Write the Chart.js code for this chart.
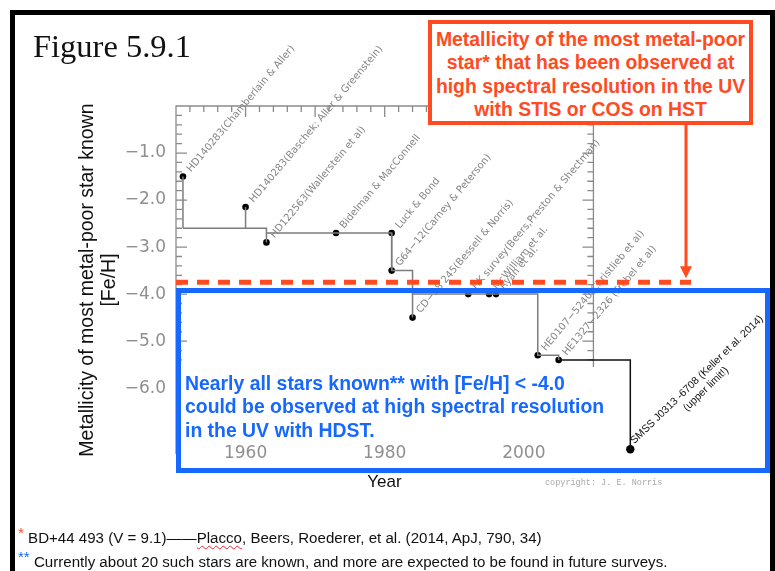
<!DOCTYPE html>
<html>
<head>
<meta charset="utf-8">
<script src="https://cdn.jsdelivr.net/npm/chart.js@4/dist/chart.umd.min.js"></script>
<style>
  html, body { margin: 0; padding: 0; background: #fff; overflow: hidden; }
  #page { position: relative; width: 775px; height: 571px; overflow: hidden; font-family: "Liberation Sans", Arial, sans-serif; }
  #page canvas { position: absolute; left: 0; top: 0; }
  .abs { position: absolute; white-space: nowrap; }
  #border { left: 10px; top: 10px; width: 765px; height: 640px; box-sizing: border-box; border: 5px solid #000; border-bottom: none; }
  #fig { left: 33px; top: 26px; font: 32.5px "Liberation Serif", "Times New Roman", serif; line-height: 40px; color: #111; }
  #hstBox { left: 428px; top: 20px; width: 325px; height: 105px; box-sizing: border-box; border: 4px solid #ff4b1f; background: #fff;
            color: #ff4b1f; font-weight: bold; font-size: 19.4px; line-height: 23.3px; text-align: center; padding-top: 4px; }
  #hdstBox { left: 176px; top: 288px; width: 594px; height: 185px; box-sizing: border-box; border: 5px solid #1668ff; }
  #hdstText { left: 185px; top: 372px; color: #1668ff; font-weight: bold; font-size: 19.4px; line-height: 23.3px; }
  #year { left: 334px; top: 472px; width: 101px; text-align: center; font-size: 17px; line-height: 20px; color: #111; }
  #copy { left: 545px; top: 478px; font: 8.5px "Liberation Mono", "Courier New", monospace; color: #a8a8a8; line-height: 10px; }
  #notes { left: 18px; top: 526px; font-size: 15.1px; line-height: 24px; color: #111; }
  .sr { color: #ff4b1f; position: relative; top: -5px; }
  .sb { color: #1668ff; position: relative; top: -5px; }
  .sq { text-decoration: underline wavy #e23; text-decoration-thickness: 1px; text-underline-offset: 2px; }
</style>
</head>
<body>
<div id="page">
  <canvas id="chart" width="775" height="571"></canvas>
  <div class="abs" id="border"></div>
  <div class="abs" id="fig">Figure 5.9.1</div>
  <div class="abs" id="hstBox">Metallicity of the most metal-poor<br>star* that has been observed at<br>high spectral resolution in the UV<br>with STIS or COS on HST</div>
  <div class="abs" id="hdstBox"></div>
  <div class="abs" id="hdstText">Nearly all stars known** with [Fe/H] &lt; -4.0<br>could be observed at high spectral resolution<br>in the UV with HDST.</div>
  <div class="abs" id="year">Year</div>
  <div class="abs" id="copy">copyright: J. E. Norris</div>
  <div class="abs" id="notes"><span class="sr">*</span> BD+44 493 (V = 9.1)——<span class="sq">Placco</span>, Beers, Roederer, et al. (2014, ApJ, 790, 34)<br><span class="sb">**</span> Currently about 20 such stars are known, and more are expected to be found in future surveys.</div>
</div>
<script>
// Discovery year and [Fe/H] of each record-setting metal-poor star
const starYears = [1951, 1960, 1963, 1973, 1981, 1981, 1984, 1992, 1995, 1996, 2002, 2005];
const starFeH   = [-1.5, -2.15, -2.9, -2.7, -2.7, -3.5, -4.5, -4.0, -4.0, -4.0, -5.3, -5.4];
const starNames = [
  'HD140283(Chamberlain & Aller)',
  'HD140283(Baschek; Aller & Greenstein)',
  'HD122563(Wallerstein et al)',
  'Bidelman & MacConnell',
  'Luck & Bond',
  'G64\u221212(Carney & Peterson)',
  'CD\u221238 245(Bessell & Norris)',
  'HK survey(Beers,Preston & Shectman)',
  'McWilliam et al.',
  'Ryan et al.',
  'HE0107\u22125240(Christlieb et al)',
  'HE1327\u22122326 (Frebel et al)'
];

// Lowest known [Fe/H] as a function of time (step curve)
const recordYears = [1951, 1963, 1981, 1984, 2002, 2005];
const recordFeH   = [-2.6, -2.7, -3.5, -4.0, -5.3, -5.4];

// SMSS J0313-6708 (upper limit)
const smssYear = 2015.3;
const smssFeH  = -7.3;
const smssLabel = ['SMSS J0313 -6708 (Keller et al. 2014)', '(upper limit!)'];

// Most metal-poor star observed at high resolution in the UV with HST
const hstLimitFeH = -3.75;

// Axis ranges and labelled ticks
const yearMin = 1950, yearMax = 2020, frameYearMax = 2010;
const fehMin = -7.4, fehMax = 0;
const xTickLabels = [1960, 1980, 2000];
const yTickLabels = [-1, -2, -3, -4, -5, -6];

// level of the record curve in force at a given year
function recordAt(yr) {
  let lvl = recordFeH[0];
  recordYears.forEach((ry, i) => { if (ry <= yr) lvl = recordFeH[i]; });
  return lvl;
}

const recordPts = recordYears.map((yr, i) => ({ x: yr, y: recordFeH[i] }));
const stemPts = [];
starYears.forEach((yr, i) => {
  const lvl = recordAt(yr);
  if (lvl !== starFeH[i]) {
    stemPts.push({ x: yr, y: starFeH[i] }, { x: yr, y: lvl }, { x: yr, y: null });
  }
});
const smssPath = [
  { x: recordYears[recordYears.length - 1], y: recordFeH[recordFeH.length - 1] },
  { x: smssYear, y: smssFeH }
];
const starPts = starYears.map((yr, i) => ({ x: yr, y: starFeH[i] }));

const GREY = '#7c7c7c';
const RED = '#ff4b1f';
const TICK_GREY = '#8f8f8f';
const ARROW_X = 686;      // arrow from the HST box down to the limit line
const BOX_TOP = 125;

const framePlugin = {
  id: 'frame',
  beforeDatasetsDraw(chart) {
    const { ctx, scales: { x, y } } = chart;
    const L = x.getPixelForValue(yearMin), R = x.getPixelForValue(frameYearMax);
    const T = y.getPixelForValue(fehMax), B = y.getPixelForValue(fehMin);
    ctx.save();
    ctx.strokeStyle = '#8a8a8a';
    ctx.lineWidth = 1.3;
    ctx.beginPath();
    ctx.moveTo(L, B); ctx.lineTo(L, T); ctx.lineTo(R, T); ctx.lineTo(R, B);
    for (let yr = yearMin + 2; yr < frameYearMax; yr += 2) {
      const px = x.getPixelForValue(yr);
      const len = yr % 10 === 0 ? 11 : 6;
      ctx.moveTo(px, T); ctx.lineTo(px, T + len);
    }
    for (let k = 1; k < 37; k++) {
      const py = y.getPixelForValue(-k * 0.2);
      const len = k % 5 === 0 ? 11 : 6;
      ctx.moveTo(L, py); ctx.lineTo(L + len, py);
      ctx.moveTo(R, py); ctx.lineTo(R - len, py);
    }
    ctx.stroke();
    // plain panel behind the HDST note
    const cy = y.getPixelForValue(-5.55);
    ctx.fillStyle = '#fff';
    ctx.fillRect(L + 5, cy, 585, 468 - cy);
    ctx.restore();
  },
  afterDatasetsDraw(chart) {
    const { ctx, scales: { x, y } } = chart;
    ctx.save();
    // year labels along the bottom of the frame
    ctx.font = '17px "DejaVu Sans"';
    ctx.fillStyle = TICK_GREY;
    ctx.textAlign = 'center';
    ctx.textBaseline = 'middle';
    xTickLabels.forEach(yr => ctx.fillText(String(yr), x.getPixelForValue(yr), chart.chartArea.bottom));
    // star labels
    ctx.font = '10px "DejaVu Sans"';
    ctx.fillStyle = '#858585';
    ctx.textBaseline = 'alphabetic';
    ctx.textAlign = 'left';
    starYears.forEach((yr, i) => {
      const px = x.getPixelForValue(yr), py = y.getPixelForValue(starFeH[i]);
      ctx.save();
      ctx.translate(px + 8, py - 4);
      ctx.rotate(-50 * Math.PI / 180);
      ctx.fillText(starNames[i], 0, 0);
      ctx.restore();
    });
    // SMSS label
    {
      const px = x.getPixelForValue(smssYear), py = y.getPixelForValue(smssFeH);
      ctx.font = '10.5px "Liberation Sans"';
      ctx.fillStyle = '#111';
      ctx.save();
      ctx.translate(px + 4, py - 5);
      ctx.rotate(-44 * Math.PI / 180);
      const w = ctx.measureText(smssLabel[0]).width;
      ctx.fillText(smssLabel[0], 0, 0);
      ctx.textAlign = 'center';
      ctx.fillText(smssLabel[1], w / 2, 13);
      ctx.restore();
    }
    // HST limit (dashed) and arrow
    const hy = y.getPixelForValue(hstLimitFeH);
    ctx.strokeStyle = RED;
    ctx.lineWidth = 5;
    ctx.setLineDash([12, 9]);
    ctx.beginPath();
    ctx.moveTo(x.getPixelForValue(yearMin), hy);
    ctx.lineTo(ARROW_X + 5, hy);
    ctx.stroke();
    ctx.setLineDash([]);
    ctx.lineWidth = 3;
    ctx.beginPath();
    ctx.moveTo(ARROW_X, BOX_TOP);
    ctx.lineTo(ARROW_X, hy - 14);
    ctx.stroke();
    ctx.fillStyle = RED;
    ctx.beginPath();
    ctx.moveTo(ARROW_X - 6, hy - 16);
    ctx.lineTo(ARROW_X + 6, hy - 16);
    ctx.lineTo(ARROW_X, hy - 4);
    ctx.closePath();
    ctx.fill();
    ctx.restore();
  }
};

new Chart(document.getElementById('chart'), {
  type: 'scatter',
  data: {
    datasets: [
      { data: recordPts, showLine: true, stepped: true, borderColor: GREY, borderWidth: 1.5, pointRadius: 0 },
      { data: stemPts, showLine: true, spanGaps: false, borderColor: GREY, borderWidth: 1.5, pointRadius: 0 },
      { data: smssPath, showLine: true, stepped: true, borderColor: '#111', borderWidth: 1.5, pointRadius: 0 },
      { data: starPts, pointRadius: 3.3, pointBackgroundColor: '#000', pointBorderWidth: 0 },
      { data: [{ x: smssYear, y: smssFeH }], pointRadius: 4.2, pointBackgroundColor: '#000', pointBorderWidth: 0 }
    ]
  },
  options: {
    responsive: false,
    animation: false,
    devicePixelRatio: 1,
    layout: { padding: { top: 106, right: 112, bottom: 0, left: 0 } },
    plugins: { legend: { display: false }, tooltip: { enabled: false } },
    scales: {
      x: {
        type: 'linear', min: yearMin, max: yearMax,
        grid: { display: false, drawTicks: false }, border: { display: false },
        ticks: { display: false, stepSize: 10 },
        afterFit: s => { s.height = 117; }
      },
      y: {
        type: 'linear', min: fehMin, max: fehMax,
        grid: { display: false, drawTicks: false }, border: { display: false },
        ticks: {
          stepSize: 1, autoSkip: false, padding: 10,
          color: TICK_GREY, font: { family: 'DejaVu Sans', size: 17 },
          callback: v => yTickLabels.includes(v) ? '\u2212' + Math.abs(v).toFixed(1) : ''
        },
        title: {
          display: true,
          text: ['Metallicity of most metal-poor star known', '[Fe/H]'],
          color: '#111',
          font: { family: 'Liberation Sans', size: 19.5, lineHeight: 1.13 },
          padding: { top: 77, bottom: 0 }
        },
        afterFit: s => { s.width = 176; }
      }
    }
  },
  plugins: [framePlugin]
});
</script>
</body>
</html>
